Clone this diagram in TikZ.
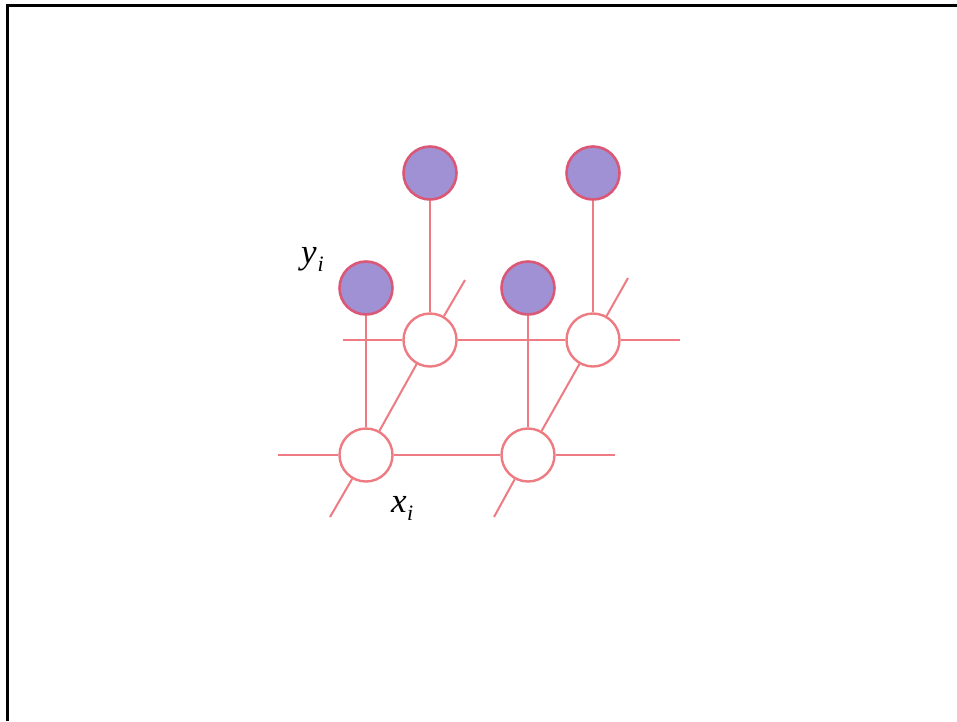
\documentclass[tikz,border=0pt]{standalone}
\usepackage{fontspec}
\setmainfont{Liberation Serif}
\definecolor{linered}{RGB}{238,122,130}
\definecolor{purpleedge}{RGB}{218,88,118}
\definecolor{purplefill}{RGB}{160,144,212}
\begin{document}
\begin{tikzpicture}[x=1pt,y=-1pt,
  conn/.style={draw=linered,line width=2pt},
  hidden/.style={circle,draw=linered,fill=white,line width=2.4pt,minimum size=53pt,inner sep=0pt},
  observed/.style={circle,draw=purpleedge,fill=purplefill,line width=2.6pt,minimum size=53pt,inner sep=0pt},
  lab/.style={font=\fontsize{35}{40}\selectfont\itshape,inner sep=0pt}]
\useasboundingbox (0,0) rectangle (957,721);
\fill[white] (0,0) rectangle (957,721);
\coordinate (tl) at (7.5,5.5);
\coordinate (tr) at (957,5.5);
\coordinate (bl) at (7.5,721);
\draw[black,line width=2.5pt] (tr) -- (tl) -- (bl);
% nodes
\node[hidden] (x1) at (366,455) {};
\node[hidden] (x2) at (528,455) {};
\node[hidden] (h1) at (430,340) {};
\node[hidden] (h2) at (593,340) {};
\node[observed] (y1) at (366,288) {};
\node[observed] (y2) at (528,288) {};
\node[observed] (u1) at (430,173) {};
\node[observed] (u2) at (593,173) {};
% free ends
\coordinate (bL) at (278,455);
\coordinate (bR) at (615,455);
\coordinate (tL) at (343,340);
\coordinate (tR) at (680,340);
\coordinate (d1) at (330,517);
\coordinate (d2) at (494,517);
\coordinate (e1) at (465,280);
\coordinate (e2) at (628,278);
% connectors
\draw[conn] (bL) -- (x1);
\draw[conn] (x1) -- (x2);
\draw[conn] (x2) -- (bR);
\draw[conn] (tL) -- (h1);
\draw[conn] (h1) -- (h2);
\draw[conn] (h2) -- (tR);
\draw[conn] (y1) -- (x1);
\draw[conn] (y2) -- (x2);
\draw[conn] (u1) -- (h1);
\draw[conn] (u2) -- (h2);
\draw[conn] (d1) -- (x1);
\draw[conn] (x1) -- (h1);
\draw[conn] (h1) -- (e1);
\draw[conn] (d2) -- (x2);
\draw[conn] (x2) -- (h2);
\draw[conn] (h2) -- (e2);
% labels
\node[lab,anchor=base west] (ly) at (301,263) {y\kern1pt\raisebox{-8pt}{\fontsize{22}{26}\selectfont i}};
\node[lab,anchor=base west] (lx) at (391,512) {x\kern0.5pt\raisebox{-8pt}{\fontsize{22}{26}\selectfont i}};
\end{tikzpicture}
\end{document}
